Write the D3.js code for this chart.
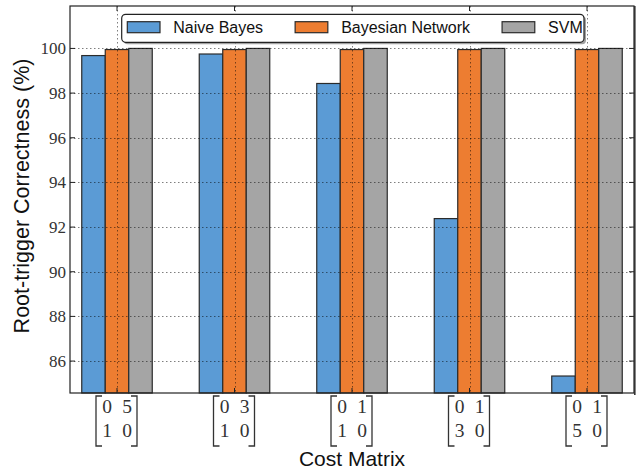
<!DOCTYPE html>
<html>
<head>
<meta charset="utf-8">
<script src="https://cdn.jsdelivr.net/npm/d3@7"></script>
<style>
  html, body { margin: 0; padding: 0; background: #fff; }
  svg { display: block; }
</style>
</head>
<body>
<svg id="chart" width="641" height="472"></svg>
<script>
// Cost matrices used for each experiment (row-major 2x2)
const costMatrices = [
  [[0, 5], [1, 0]],
  [[0, 3], [1, 0]],
  [[0, 1], [1, 0]],
  [[0, 1], [3, 0]],
  [[0, 1], [5, 0]]
];
const seriesNames = ["Naive Bayes", "Bayesian Network", "SVM"];
const naiveBayes = [99.68, 99.75, 98.43, 92.38, 85.33];
const bayesianNetwork = [99.95, 99.95, 99.95, 99.95, 99.95];
const svm = [100, 100, 100, 100, 100];
const yTicks = [86, 88, 90, 92, 94, 96, 98, 100];
const colors = ["#5B9BD5", "#ED7D31", "#A5A5A5"];
const series = [naiveBayes, bayesianNetwork, svm];

(function draw() {
  const svg = d3.select("#chart");
  const L = 70, R = 634, T = 6, B = 393;

  const x = d3.scaleLinear().domain([-0.4, 4.4]).range([L, R]);
  const y = d3.scaleLinear().domain([84.57, 101.9]).range([B, T]);
  const barW = 0.2;

  // Bars
  series.forEach((vals, si) => {
    svg.append("g").selectAll("rect").data(vals).join("rect")
      .attr("x", (d, i) => x(i + (si - 1.5) * barW))
      .attr("width", x(barW) - x(0))
      .attr("y", d => y(d))
      .attr("height", d => B - y(d))
      .attr("fill", colors[si])
      .attr("stroke", "#2b2b2b")
      .attr("stroke-width", 1.2);
  });

  // Dotted grid, drawn over the bars
  const grid = svg.append("g")
    .attr("stroke", "#000").attr("stroke-opacity", 0.5)
    .attr("stroke-width", 1).attr("stroke-dasharray", "1.5,2.5");
  grid.selectAll("line.h").data(yTicks).join("line").attr("class", "h")
    .attr("x1", L).attr("x2", R)
    .attr("y1", d => Math.round(y(d)) + 0.5).attr("y2", d => Math.round(y(d)) + 0.5);
  grid.selectAll("line.v").data(costMatrices.map((m, i) => i)).join("line").attr("class", "v")
    .attr("x1", d => Math.round(x(d)) + 0.5).attr("x2", d => Math.round(x(d)) + 0.5)
    .attr("y1", T).attr("y2", B);

  // Frame
  svg.append("rect").attr("x", L).attr("y", T)
    .attr("width", R - L).attr("height", B - T)
    .attr("fill", "none").attr("stroke", "#222").attr("stroke-width", 1.2);
  svg.append("line").attr("x1", R + 0.8).attr("x2", R + 0.8)
    .attr("y1", T).attr("y2", B + 2)
    .attr("stroke", "#333").attr("stroke-width", 1.6);

  // Inward tick marks
  const ticks = svg.append("g").attr("stroke", "#222").attr("stroke-width", 1);
  yTicks.forEach(v => {
    ticks.append("line").attr("x1", L).attr("x2", L + 5).attr("y1", y(v)).attr("y2", y(v));
    ticks.append("line").attr("x1", R).attr("x2", R - 5).attr("y1", y(v)).attr("y2", y(v));
  });
  costMatrices.forEach((m, i) => {
    ticks.append("line").attr("x1", x(i)).attr("x2", x(i)).attr("y1", T).attr("y2", T + 5);
    ticks.append("line").attr("x1", x(i)).attr("x2", x(i)).attr("y1", B).attr("y2", B - 5);
  });

  // Y tick labels
  svg.append("g").selectAll("text").data(yTicks).join("text")
    .attr("x", 66).attr("y", d => y(d)).attr("dy", "0.34em")
    .attr("text-anchor", "end")
    .attr("font-family", "'Liberation Serif', serif").attr("font-size", 17)
    .attr("fill", "#333")
    .text(d => d);

  // X tick labels: 2x2 matrices with square brackets
  costMatrices.forEach((m, i) => {
    const cx = x(i);
    const g = svg.append("g");
    const bt = 396, bb = 446, bw = 6;
    g.append("path")
      .attr("d", `M${cx - 21 + bw},${bt}H${cx - 21}V${bb}H${cx - 21 + bw}`)
      .attr("fill", "none").attr("stroke", "#333").attr("stroke-width", 1.3);
    g.append("path")
      .attr("d", `M${cx + 20 - bw},${bt}H${cx + 20}V${bb}H${cx + 20 - bw}`)
      .attr("fill", "none").attr("stroke", "#333").attr("stroke-width", 1.3);
    m.forEach((row, r) => {
      row.forEach((v, c) => {
        g.append("text")
          .attr("x", cx + (c === 0 ? -10 : 10)).attr("y", r === 0 ? 413 : 437)
          .attr("text-anchor", "middle")
          .attr("font-family", "'Liberation Serif', serif").attr("font-size", 19.5)
          .attr("fill", "#333").text(v);
      });
    });
  });

  // Axis titles
  svg.append("text")
    .attr("x", (L + R) / 2).attr("y", 466)
    .attr("text-anchor", "middle")
    .attr("font-family", "'Liberation Sans', Arial, sans-serif").attr("font-size", 21)
    .attr("fill", "#111").text("Cost Matrix");
  svg.append("text")
    .attr("transform", "translate(29,196) rotate(-90)")
    .attr("text-anchor", "middle")
    .attr("font-family", "'Liberation Sans', Arial, sans-serif").attr("font-size", 21.5)
    .attr("fill", "#111").text("Root-trigger Correctness (%)");

  // Legend
  const lg = svg.append("g");
  const lx = 121.7, ly = 14.3, lw = 462.3, lh = 28;
  lg.append("rect").attr("x", lx + 2).attr("y", ly + 2).attr("width", lw).attr("height", lh)
    .attr("rx", 4).attr("fill", "#555").attr("opacity", 0.55);
  lg.append("rect").attr("x", lx).attr("y", ly).attr("width", lw).attr("height", lh)
    .attr("rx", 4).attr("fill", "#fff").attr("stroke", "#222").attr("stroke-width", 1.2);
  let cur = lx + 5.6;
  seriesNames.forEach((name, i) => {
    lg.append("rect").attr("x", cur).attr("y", 21.7).attr("width", 32.7).attr("height", 11)
      .attr("fill", colors[i]).attr("stroke", "#2b2b2b").attr("stroke-width", 1.2);
    const t = lg.append("text").attr("x", cur + 46).attr("y", 33.3)
      .attr("font-family", "'Liberation Sans', Arial, sans-serif").attr("font-size", 16)
      .attr("fill", "#111").text(name);
    cur = cur + 46 + t.node().getComputedTextLength() + 32;
  });
})();
</script>
</body>
</html>
